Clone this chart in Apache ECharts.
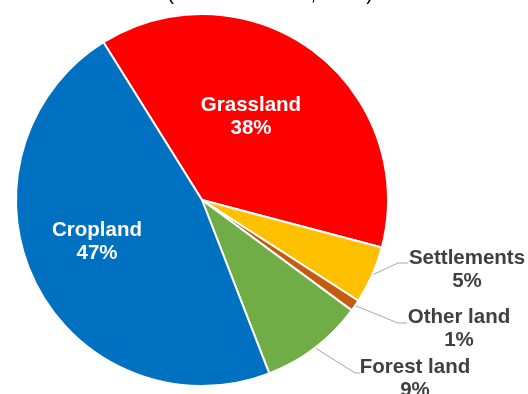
<!DOCTYPE html>
<html>
<head>
<meta charset="utf-8">
<script src="https://cdn.jsdelivr.net/npm/echarts@6/dist/echarts.min.js"></script>
<style>
  html, body { margin: 0; padding: 0; background: #fff; }
  #chart { width: 528px; height: 394px; }
</style>
</head>
<body>
<div id="chart"></div>
<script>
// Land use shares, clockwise from the upper-left edge
const categories = ['Grassland', 'Settlements', 'Other land', 'Forest land', 'Cropland'];
const shares = [38, 5, 1, 9, 47];
const sliceColors = ['#FF0000', '#FFC000', '#C55A11', '#70AD47', '#0070C0'];
const subtitle = '(LULUCF sector, 2018)';

// Where each label block sits (centre of the text), and its leader-line elbow
const labelSpots = {
  'Grassland':   { x: 251, y: 117 },
  'Cropland':    { x: 97,  y: 242 },
  'Settlements': { x: 467, y: 270, elbow: [398, 263], end: [408, 263] },
  'Other land':  { x: 459, y: 329, elbow: [398, 323], end: [407, 323] },
  'Forest land': { x: 415, y: 379, elbow: [355, 373], end: [360, 373] }
};
const insideSlices = ['Grassland', 'Cropland'];

const font = '"Liberation Sans", Arial, sans-serif';

const data = categories.map((name, i) => {
  const inside = insideSlices.includes(name);
  return {
    name: name,
    value: shares[i],
    itemStyle: { color: sliceColors[i] },
    label: {
      position: inside ? 'inside' : 'outside',
      color: inside ? '#FFFFFF' : '#404040'
    },
    labelLine: { show: !inside }
  };
});

const chart = echarts.init(document.getElementById('chart'), null, { renderer: 'canvas' });
chart.setOption({
  animation: false,
  graphic: [{
    type: 'text',
    x: 270,
    y: 4,
    style: {
      text: subtitle,
      font: '20px ' + font,
      fill: '#000000',
      textAlign: 'center',
      textVerticalAlign: 'bottom'
    }
  }],
  series: [{
    type: 'pie',
    center: [202, 200],
    radius: 186,
    startAngle: 122,
    clockwise: true,
    avoidLabelOverlap: false,
    itemStyle: { borderColor: '#FFFFFF', borderWidth: 2 },
    label: {
      show: true,
      formatter: '{b}\n{c}%',
      fontFamily: font,
      fontWeight: 'bold',
      fontSize: 20.5,
      lineHeight: 23,
      align: 'center'
    },
    labelLine: {
      show: true,
      length: 20,
      length2: 10,
      lineStyle: { color: '#A6A6A6', width: 1 }
    },
    labelLayout: function (params) {
      const spot = labelSpots[categories[params.dataIndex]];
      if (!spot) return {};
      const out = { x: spot.x, y: spot.y, align: 'center', verticalAlign: 'middle' };
      if (spot.elbow && params.labelLinePoints) {
        out.labelLinePoints = [params.labelLinePoints[0], spot.elbow, spot.end];
      }
      return out;
    },
    data: data
  }]
});
</script>
</body>
</html>
